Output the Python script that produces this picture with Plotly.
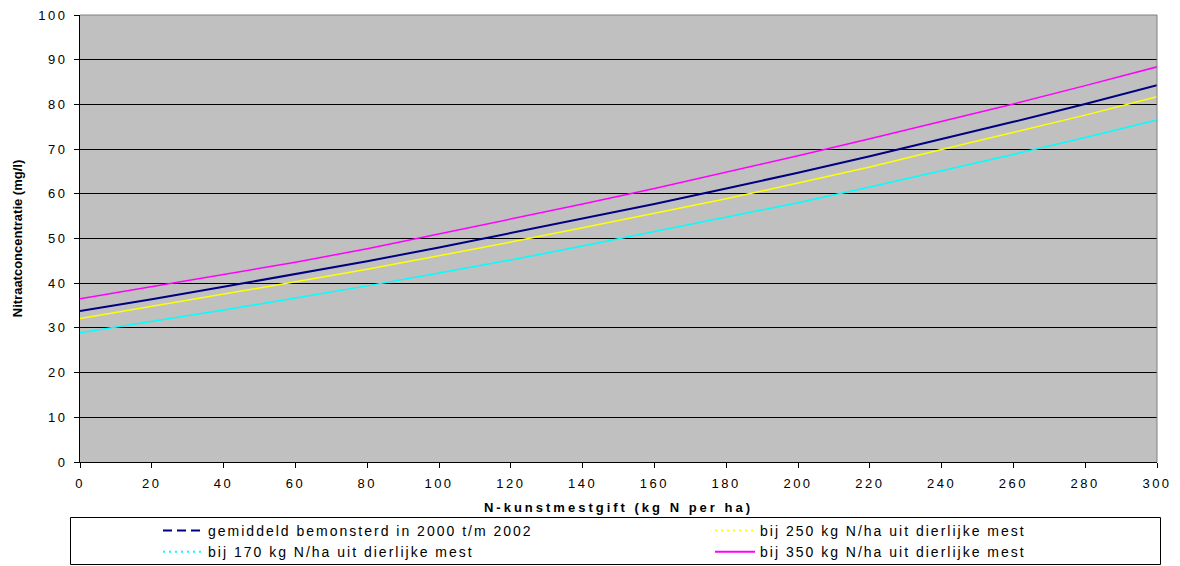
import plotly.graph_objects as go

# ---- data ----
x_kg = [0, 20, 40, 60, 80, 100, 120, 140, 160, 180, 200, 220, 240, 260, 280, 300]

gemiddeld = [33.8, 36.4, 39.2, 42.0, 44.9, 48.0, 51.2, 54.4, 57.7, 61.2, 64.7, 68.4, 72.2, 76.1, 80.1, 84.3]
bij170 = [28.9, 31.4, 34.0, 36.7, 39.4, 42.3, 45.2, 48.3, 51.5, 54.7, 58.0, 61.5, 65.1, 68.8, 72.6, 76.5]
bij250 = [32.1, 34.8, 37.5, 40.3, 43.1, 46.1, 49.2, 52.4, 55.6, 58.9, 62.4, 66.0, 69.9, 73.7, 77.6, 81.7]
bij350 = [36.5, 39.2, 41.9, 44.7, 47.7, 51.0, 54.3, 57.7, 61.2, 64.8, 68.5, 72.3, 76.2, 80.1, 84.2, 88.4]

series_names = [
    "gemiddeld bemonsterd in 2000 t/m 2002",
    "bij 170 kg N/ha uit dierlijke mest",
    "bij 250 kg N/ha uit dierlijke mest",
    "bij 350 kg N/ha uit dierlijke mest",
]

x_ticks = [0, 20, 40, 60, 80, 100, 120, 140, 160, 180, 200, 220, 240, 260, 280, 300]
y_ticks = [0, 10, 20, 30, 40, 50, 60, 70, 80, 90, 100]

x_title = "N-kunstmestgift (kg N per ha)"
y_title = "Nitraatconcentratie (mg/l)"

# ---- styles ----
FONT = "Liberation Sans, Arial, sans-serif"
colors = {"gem": "#000080", "170": "#00FFFF", "250": "#FFFF00", "350": "#FF00FF"}

fig = go.Figure()

# plotted curves
curve_specs = [
    (bij170, colors["170"], 1.5),
    (bij250, colors["250"], 1.5),
    (gemiddeld, colors["gem"], 2),
    (bij350, colors["350"], 1.5),
]
for vals, col, w in curve_specs:
    fig.add_trace(go.Scatter(x=x_kg, y=vals, mode="lines",
                             line=dict(color=col, width=w),
                             showlegend=False, hoverinfo="skip"))

# legend entries (legend shows the line styles of the original)
legend_specs = [
    (series_names[0], colors["gem"], 2, "9px,5px", "legend"),
    (series_names[1], colors["170"], 2, "2px,4px", "legend"),
    (series_names[2], colors["250"], 2, "2px,4px", "legend2"),
    (series_names[3], colors["350"], 2, "solid", "legend2"),
]
for name, col, w, dash, lg in legend_specs:
    fig.add_trace(go.Scatter(x=[None], y=[None], mode="lines", name=name,
                             line=dict(color=col, width=w, dash=dash),
                             legend=lg, showlegend=True, hoverinfo="skip"))

L, R, T, B = 80, 23, 15, 104
W, H = 1180, 566
pw, ph = W - L - R, H - T - B

def px_x(p):
    return (p - L) / pw

def px_y(p):
    return (H - B - p) / ph

legend_common = dict(
    orientation="v", xanchor="left", yanchor="top",
    bgcolor="rgba(0,0,0,0)", borderwidth=0,
    font=dict(family=FONT, size=14, color="black"),
    itemwidth=40, itemclick=False, itemdoubleclick=False,
)

fig.update_layout(
    width=W, height=H,
    margin=dict(l=L, r=R, t=T, b=B, pad=0, autoexpand=False),
    paper_bgcolor="white",
    plot_bgcolor="#C0C0C0",
    font=dict(family=FONT, size=13, color="black"),
    xaxis=dict(
        range=[0, 300], tickmode="array", tickvals=x_ticks,
        ticktext=[str(v) for v in x_ticks],
        ticks="outside", ticklen=5, tickwidth=1, tickcolor="black",
        showline=True, linecolor="black", linewidth=1,
        showgrid=False, zeroline=False,
        ticklabelstandoff=4,
        tickfont=dict(family=FONT, size=13, color="black"),
        title=dict(text="<b>" + x_title + "</b>", standoff=13,
                   font=dict(family=FONT, size=13, color="black")),
    ),
    yaxis=dict(
        range=[0, 100], tickmode="array", tickvals=y_ticks,
        ticktext=[str(v) for v in y_ticks],
        ticks="outside", ticklen=5, tickwidth=1, tickcolor="black",
        showline=True, linecolor="black", linewidth=1,
        showgrid=True, gridcolor="black", gridwidth=1,
        zeroline=False,
        ticklabelstandoff=4,
        tickfont=dict(family=FONT, size=13, color="black"),
        title=dict(text="<b>" + y_title + "</b>", standoff=20,
                   font=dict(family=FONT, size=13, color="black")),
    ),
    legend=dict(x=px_x(158), y=px_y(515), **legend_common),
    legend2=dict(x=px_x(710), y=px_y(515), **legend_common),
    shapes=[
        # plot-area border (top and right edges)
        dict(type="line", xref="paper", yref="paper", x0=0, x1=1, y0=1, y1=1,
             line=dict(color="#808080", width=1), layer="above"),
        dict(type="line", xref="paper", yref="paper", x0=1, x1=1, y0=0, y1=1,
             line=dict(color="#808080", width=1), layer="above"),
        # legend frame
        dict(type="rect", xref="paper", yref="paper",
             x0=px_x(70.5), x1=px_x(1160.5), y0=px_y(564.5), y1=px_y(517.5),
             line=dict(color="black", width=1), fillcolor="rgba(0,0,0,0)"),
    ],
    showlegend=True,
)

# The original chart's horizontal text is wide-set; widen the letter spacing
# of horizontal texts (ticks, legend, x title) to match it.
post = """
var gd = document.getElementById('{plot_id}');
var s = document.createElement('style');
s.textContent = 'svg.main-svg text { letter-spacing: 2px; } ' +
                'svg.main-svg .xtick text, svg.main-svg .ytick text { letter-spacing: 2.5px; } ' +
                'svg.main-svg text.xtitle { letter-spacing: 3px; } ' +
                'svg.main-svg text.ytitle { letter-spacing: 0px; }';
document.head.appendChild(s);
function widen() {
  gd.querySelectorAll('g.infolayer text').forEach(function (t) {
    if (t.classList.contains('ytitle')) {
      t.style.letterSpacing = '0px';
    } else if (t.classList.contains('xtitle')) {
      t.style.letterSpacing = '3px';
    } else {
      t.style.letterSpacing = '2px';
    }
  });
  gd.querySelectorAll('g.scrollbox').forEach(function (g) {
    g.removeAttribute('clip-path');
  });
}
widen();
setTimeout(widen, 50);
setTimeout(widen, 300);
gd.on('plotly_afterplot', widen);
"""

fig.write_html("out.html", post_script=post, config={"displayModeBar": False})
